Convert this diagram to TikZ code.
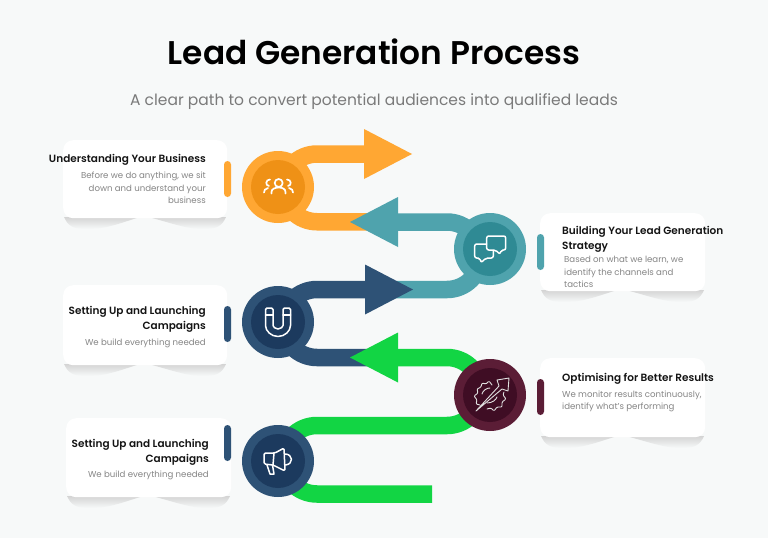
\documentclass[tikz,border=0pt]{standalone}
\usepackage{fontspec}
\setmainfont{Poppins}[BoldFont=* SemiBold]
\definecolor{bgc}{HTML}{F7F9F9}
\definecolor{orA}{HTML}{FFA733}\definecolor{orB}{HTML}{EF9116}
\definecolor{teA}{HTML}{4FA3AD}\definecolor{teB}{HTML}{2F8A94}
\definecolor{naA}{HTML}{2E5276}\definecolor{naB}{HTML}{1C3A5E}
\definecolor{maA}{HTML}{5B1D36}\definecolor{maB}{HTML}{3F0D24}
\definecolor{grA}{HTML}{12D544}
\definecolor{headc}{HTML}{141414}\definecolor{descc}{HTML}{858585}
\tikzset{
  cardbox/.style={fill=white,rounded corners=10pt,inner sep=0,anchor=north west},
  tabbar/.style={rounded corners=3.5pt,minimum width=7pt,minimum height=36pt,inner sep=0},
  outerdot/.style={circle,minimum size=72pt,inner sep=0},
  innerdot/.style={circle,minimum size=54pt,inner sep=0},
  bandline/.style={line width=17.5pt,draw=#1},
  head/.style={fill=#1},
  headr/.style={font=\fontsize{10.5}{15}\selectfont\bfseries,text=headc,align=right,anchor=north east,inner sep=0},
  headl/.style={font=\fontsize{10.5}{15}\selectfont\bfseries,text=headc,align=left,anchor=north west,inner sep=0},
  descr/.style={font=\fontsize{8.6}{12.8}\selectfont,text=descc,align=right,anchor=north east,inner sep=0},
  descl/.style={font=\fontsize{8.6}{12.6}\selectfont,text=descc,align=left,anchor=north west,inner sep=0},
  iconline/.style={draw=white,line width=1.5pt,line join=round,line cap=round},
  thinicon/.style={draw=white!88!black,line width=0.9pt,line join=round,line cap=round},
  softshadow/.style={top color=black!17,bottom color=bgc,draw=none}
}
\newcommand{\softunder}[3]{% x left, y bottom, width
  \path[softshadow,shift={(#1,#2)}] (1,-1) .. controls (5,8) and (10,11) .. (24,11)
    .. controls (45,11) and (60,4) .. (#3*0.47,-1) -- cycle;
  \path[softshadow,shift={(#1,#2)}] (#3*0.52,-1) .. controls (#3*0.64,4) and (#3*0.75,11) .. (#3-24,11)
    .. controls (#3-10,11) and (#3-5,8) .. (#3-1,-1) -- cycle;}
\begin{document}
\begin{tikzpicture}[x=1pt,y=-1pt]
\useasboundingbox (0,0) rectangle (768,538);
\fill[bgc] (0,0) rectangle (768,538);

% title
\node[inner sep=0,font=\fontsize{32.8}{36}\selectfont\bfseries,text=black] (title) at (374,52) {Lead Generation Process};
\node[inner sep=0,font=\fontsize{15.5}{20}\selectfont,text=black!52] (subtitle) at (374,102) {A clear path to convert potential audiences into qualified leads};

% anchors
\coordinate (c1) at (278,187);
\coordinate (c2) at (490,249);
\coordinate (c3) at (278,322);
\coordinate (c4) at (490,395);
\coordinate (c5) at (278,461);

% orange
\coordinate (a1) at (364,154);
\coordinate (e1) at (372,221.75);
\draw[bandline=orA] (a1) -- (317,154) arc (270:90:33.875) -- (e1);
\fill[head=orA,shift={(a1)}] (0,-25) -- (48,0) -- (0,25) -- cycle;
% teal
\coordinate (a2) at (398,222);
\coordinate (e2) at (372,289.5);
\draw[bandline=teA] (a2) -- (447,222) arc (-90:90:33.75) -- (e2);
\fill[head=teA,shift={(a2)}] (0,-25) -- (-48,0) -- (0,25) -- cycle;
% navy
\coordinate (a3) at (365,289.5);
\coordinate (e3) at (372,357.5);
\draw[bandline=naA] (a3) -- (317,289.5) arc (270:90:34) -- (e3);
\fill[head=naA,shift={(a3)}] (0,-25) -- (48,0) -- (0,25) -- cycle;
% green
\coordinate (a4) at (398,357.5);
\coordinate (e4) at (432,494);
\draw[bandline=grA] (a4) -- (447,357.5) arc (-90:90:34) -- (317,425.5) arc (270:90:34.25) -- (e4);
\fill[head=grA,shift={(a4)}] (0,-25) -- (-48,0) -- (0,25) -- cycle;

% shadows
\softunder{63}{218}{164}
\softunder{540}{291}{165}
\softunder{63}{365}{164}
\softunder{540}{437}{165}
\softunder{66}{497}{165}

% cards
\node[cardbox,minimum width=164pt,minimum height=78pt] (card1) at (63,140) {};
\node[cardbox,minimum width=165pt,minimum height=78pt] (card2) at (540,213) {};
\node[cardbox,minimum width=164pt,minimum height=80pt] (card3) at (63,285) {};
\node[cardbox,minimum width=165pt,minimum height=79pt] (card4) at (540,358) {};
\node[cardbox,minimum width=165pt,minimum height=79pt] (card5) at (66,418) {};

% tabs
\node[tabbar,fill=orA] (tab1) at (227.5,179) {};
\node[tabbar,fill=teA] (tab2) at (540.5,252) {};
\node[tabbar,fill=naA] (tab3) at (227.5,324) {};
\node[tabbar,fill=maA] (tab4) at (540.5,397) {};
\node[tabbar,fill=naA] (tab5) at (227.5,443) {};

% circles
\node[outerdot,fill=orA] (o1) at (c1) {};
\node[innerdot,fill=orB] (i1) at (c1) {};
\node[outerdot,fill=teA] (o2) at (c2) {};
\node[innerdot,fill=teB] (i2) at (c2) {};
\node[outerdot,fill=naA] (o3) at (c3) {};
\node[innerdot,fill=naB] (i3) at (c3) {};
\node[outerdot,fill=maA] (o4) at (c4) {};
\node[innerdot,fill=maB] (i4) at (c4) {};
\node[outerdot,fill=naA] (o5) at (c5) {};
\node[innerdot,fill=naB] (i5) at (c5) {};

% icon: people
\begin{scope}[shift={(c1)}]
  \draw[iconline,line width=1.7pt] (0.7,-4) circle (4);
  \draw[iconline,line width=1.7pt] (-6.5,6.5) -- (-6.5,5) .. controls (-6.5,2) and (-3,0.5) .. (0.7,0.5) .. controls (4.5,0.5) and (7.5,2) .. (7.5,5) -- (7.5,6.5);
  \draw[iconline,line width=1.7pt] (-8,-7.5) .. controls (-12.5,-7.5) and (-13,-1.5) .. (-9,-1);
  \draw[iconline,line width=1.7pt] (9,-7.5) .. controls (13.5,-7.5) and (14,-1.5) .. (10,-1);
  \draw[iconline,line width=1.7pt] (-10,1) .. controls (-13,1.5) and (-14,3.5) .. (-14,5.5);
  \draw[iconline,line width=1.7pt] (11,1) .. controls (14,1.5) and (15,3.5) .. (15,5.5);
\end{scope}
% icon: chat
\begin{scope}[shift={(c2)}]
  \draw[iconline,rounded corners=2pt] (-3.3,-5) -- (-3.3,-13) -- (15.7,-13) -- (15.7,1) -- (11,1) -- (10,5.3) -- (5.5,1) -- (-3.3,1) -- cycle;
  \draw[iconline,rounded corners=2pt] (-3.3,-5) -- (-15.3,-5) -- (-15.3,9) -- (-10,9) -- (-9,13.7) -- (-4,9) -- (3.3,9) -- (3.3,1.5);
\end{scope}
% icon: magnet
\begin{scope}[shift={(c3)}]
  \draw[iconline,rounded corners=1.5pt] (-12.5,-14) -- (-12.5,2) arc (180:0:12.5) -- (12.5,-14) -- (5,-14) -- (5,2) arc (0:180:5) -- (-5,-14) -- cycle;
  \draw[iconline] (-12.5,-7) -- (-5,-7) (5,-7) -- (12.5,-7);
\end{scope}
% icon: gear with arrow
\begin{scope}[shift={(c4)}]
  \draw[thinicon,rounded corners=1pt] (2,-10) -- (-1,-14) -- (-4,-11) -- (-8,-12) -- (-9,-8) -- (-13,-6) -- (-12,-2) -- (-16,1) -- (-13,5) -- (-14,9) -- (-10,10);
  \draw[thinicon,rounded corners=1pt] (-3,14) -- (1,13) -- (4,16) -- (7,12) -- (12,12) -- (12,7) -- (16,4) -- (13,0) -- (14,-3);
  \draw[thinicon] (-14,16) -- (9,-9) -- (7,-15) -- (19,-17) -- (18,-4) -- (12,-6) -- (-14,16);
  \draw[thinicon] (-8,-1) .. controls (-7,-5) and (-3,-7) .. (0,-7);
  \draw[thinicon] (-3,8) .. controls (2,8) and (6,5) .. (7,2);
\end{scope}
% icon: megaphone
\begin{scope}[shift={(c5)}]
  \draw[iconline,rounded corners=1.5pt] (-14,-8) -- (-3,-8) -- (6,-13) -- (7,10) -- (-5,4) -- (-14,3) -- cycle;
  \draw[iconline] (-4,-8) -- (-5,4);
  \draw[iconline] (-11,4) -- (-8,13) -- (-4,13) -- (-5.5,4);
  \draw[iconline] (7,-7) .. controls (15,-7) and (16,3) .. (7.5,4);
\end{scope}

% card 1
\node[headr] (h1) at (206,154) {Understanding Your Business};
\node[descr] (d1) at (206,171.5) {Before we do anything, we sit\\down and understand your\\business};
% card 2
\node[headl] (h2) at (562,226.5) {Building Your Lead Generation\\Strategy};
\node[descl] (d2) at (564,256) {Based on what we learn, we\\identify the channels and\\tactics};
% card 3
\node[headr] (h3) at (206,306.5) {Setting Up and Launching\\Campaigns};
\node[descr] (d3) at (206,338.5) {We build everything needed};
% card 4
\node[headl] (h4) at (562,373.5) {Optimising for Better Results};
\node[descl] (d4) at (562,390.5) {We monitor results continuously,\\identify what's performing};
% card 5
\node[headr] (h5) at (209,439.5) {Setting Up and Launching\\Campaigns};
\node[descr] (d5) at (209,470.5) {We build everything needed};
\end{tikzpicture}
\end{document}
